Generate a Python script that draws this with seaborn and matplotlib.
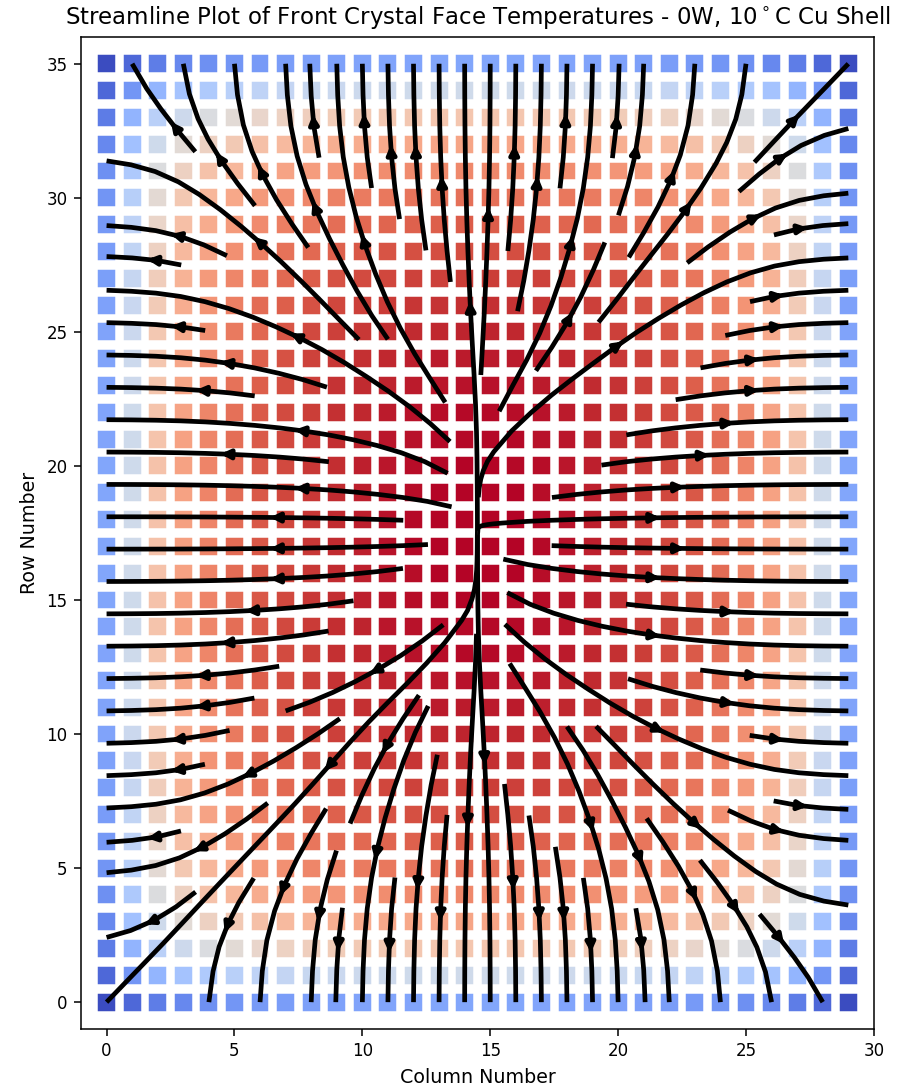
import matplotlib
matplotlib.use("Agg")
import matplotlib.pyplot as plt
import numpy as np
import pandas as pd
import seaborn as sns

# relative temperature profiles (1.0 = hottest cell)
col_temp = [0.282, 0.494, 0.660, 0.752, 0.816, 0.862, 0.899, 0.926, 0.949, 0.965,
            0.977, 0.986, 0.993, 0.997, 1.000, 1.000, 0.997, 0.993, 0.986, 0.977,
            0.965, 0.949, 0.926, 0.899, 0.862, 0.816, 0.752, 0.660, 0.494, 0.282]
row_temp = [0.282, 0.494, 0.650, 0.742, 0.807, 0.853, 0.890, 0.917, 0.940, 0.959,
            0.972, 0.982, 0.988, 0.993, 0.996, 0.998, 0.9995, 1.000, 1.000, 0.9995,
            0.998, 0.996, 0.993, 0.988, 0.982, 0.972, 0.959, 0.940, 0.917, 0.890,
            0.853, 0.807, 0.742, 0.650, 0.494, 0.282]

title = "Streamline Plot of Front Crystal Face Temperatures - 0W, 10$^\\circ$C Cu Shell"

cols = np.arange(len(col_temp))
rows = np.arange(len(row_temp))
temps = np.outer(row_temp, col_temp)

df = pd.DataFrame({
    "col": np.tile(cols, len(rows)),
    "row": np.repeat(rows, len(cols)),
    "temp": temps.ravel(),
})

# heat flows from hot to cold
dT_drow, dT_dcol = np.gradient(temps)
U = -dT_dcol
V = -dT_drow

fig, ax = plt.subplots(figsize=(9, 10.87), dpi=100)
fig.subplots_adjust(left=0.09, right=0.971, bottom=0.0534, top=0.966)

sns.scatterplot(data=df, x="col", y="row", hue="temp", palette="coolwarm",
                marker="s", s=185, legend=False, ax=ax)
ax.streamplot(cols, rows, U, V, color="k", linewidth=3.4, arrowsize=1.3)

ax.set_xlim(-1, 30)
ax.set_ylim(-1, 36)
ax.set_title(title, fontsize=16.5, pad=9)
ax.set_xlabel("Column Number", fontsize=13.7, labelpad=5.5)
ax.set_ylabel("Row Number", fontsize=13.7, labelpad=5.5)
ax.tick_params(labelsize=12, length=4.8, pad=4.8, width=1.1)
for sp in ax.spines.values():
    sp.set_linewidth(1.1)

plt.savefig("out.png")
